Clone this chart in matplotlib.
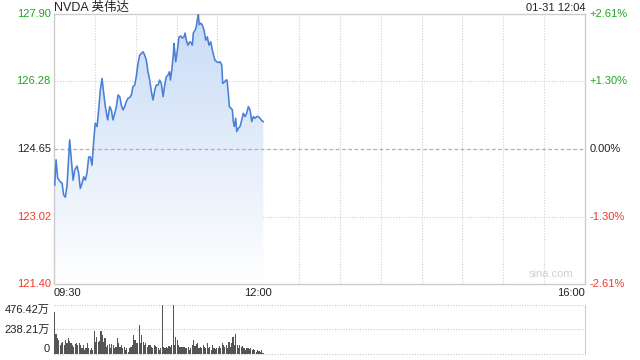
import matplotlib.pyplot as plt
import numpy as np
from matplotlib.colors import LinearSegmentedColormap

plt.rcParams['font.family'] = ['Liberation Sans', 'Noto Sans CJK SC']

# minutes after 09:30 and last price
minutes = [0.5, 1.5, 2.7, 4.6, 5.9, 7.1, 8.3, 9.5, 11.5, 12.7,
           14.0, 15.2, 16.9, 18.1, 19.3, 20.6, 21.8, 23.0, 24.2, 25.5,
           26.7, 27.9, 29.2, 30.3, 31.6, 32.8, 34.0, 35.3, 36.5, 37.7,
           39.4, 40.9, 42.1, 43.3, 44.6, 45.8, 47.0, 48.3, 49.4, 50.7,
           51.9, 53.1, 54.3, 55.6, 56.8, 58.0, 59.3, 60.4, 61.7, 62.9,
           64.1, 65.4, 66.6, 67.8, 69.0, 70.3, 71.5, 72.7, 74.0, 75.1,
           76.4, 77.6, 78.8, 80.1, 81.3, 82.5, 83.7, 84.8, 85.5, 86.5,
           87.7, 88.1, 89.4, 90.6, 91.8, 93.1, 94.2, 95.5, 96.2, 97.2,
           98.4, 99.7, 100.8, 101.6, 102.3, 103.6, 104.5, 105.2, 106.0, 106.7,
           107.7, 108.9, 110.2, 111.4, 112.6, 113.8, 115.1, 116.3, 117.5, 118.2,
           119.5, 120.7, 121.9, 123.2, 123.9, 125.1, 126.3, 127.1, 128.0, 128.8,
           130.0, 131.0, 131.7, 132.4, 133.5, 134.2, 135.4, 136.6, 137.9, 139.0,
           140.3, 141.5, 142.7, 144.0, 145.2, 146.4, 147.6, 148.9, 150.1, 151.3,
           152.6, 153.7]
prices = [123.78, 124.39, 123.95, 123.86, 123.83, 123.54, 123.49, 123.74, 124.87, 124.39,
          123.90, 124.14, 124.24, 124.07, 123.70, 123.82, 123.98, 123.90, 124.07, 124.46,
          124.46, 124.26, 124.87, 125.27, 125.19, 125.59, 126.07, 126.35, 125.99, 125.67,
          125.35, 125.67, 125.59, 125.35, 125.51, 125.67, 125.95, 125.91, 125.71, 125.59,
          125.67, 125.79, 125.87, 125.89, 125.95, 126.15, 126.19, 126.39, 126.71, 126.91,
          126.95, 126.99, 126.91, 126.79, 126.51, 126.31, 126.03, 125.83, 126.07, 126.19,
          126.19, 126.31, 126.23, 125.91, 126.19, 126.39, 126.43, 126.51, 126.31, 126.55,
          126.95, 127.19, 126.75, 127.03, 127.35, 127.37, 127.32, 127.35, 127.44, 127.27,
          127.15, 127.23, 127.21, 127.15, 127.44, 127.51, 127.59, 127.76, 127.88, 127.64,
          127.68, 127.64, 127.51, 127.27, 127.35, 127.15, 127.23, 127.03, 126.87, 126.79,
          126.75, 126.73, 126.75, 126.67, 126.23, 126.26, 126.31, 126.31, 125.99, 125.67,
          125.63, 125.59, 125.31, 125.19, 125.39, 125.07, 125.15, 125.19, 125.35, 125.51,
          125.43, 125.51, 125.67, 125.59, 125.31, 125.43, 125.39, 125.43, 125.43, 125.39,
          125.33, 125.31]

# volume per minute, in 万
volumes = [411, 191, 152, 140, 87, 104, 120, 87, 136, 104,
           159, 126, 110, 87, 71, 97, 110, 87, 104, 87,
           61, 87, 39, 55, 104, 55, 39, 55, 39, 223,
           120, 169, 120, 126, 226, 185, 120, 152, 71, 87,
           94, 55, 94, 87, 55, 71, 159, 104, 71, 87,
           55, 71, 39, 61, 23, 55, 71, 87, 185, 136,
           104, 110, 279, 104, 185, 120, 87, 104, 71, 87,
           87, 71, 55, 87, 77, 64, 55,
           39, 55, 476, 71, 61, 71, 55, 81, 71, 87,
           476, 87, 169, 136, 87, 71, 71, 64, 71, 55,
           61, 71, 39, 61, 87, 136, 77, 94, 104, 55,
           71, 55, 87, 71, 61, 104, 55, 71, 39, 87,
           61, 48, 55, 61, 81, 55, 104, 87, 71, 87,
           55, 120, 71, 104, 169, 87, 191, 87, 55, 87,
           71, 77, 55, 39, 55, 61, 48, 55, 39, 45,
           39, 23, 39, 29, 16, 39, 10, 3]

prev_close = 124.65
price_ticks = [121.40, 123.02, 124.65, 126.28, 127.90]
pct_labels = ['-2.61%', '-1.30%', '0.00%', '+1.30%', '+2.61%']
vol_ticks = [0, 238.21, 476.42]
vol_labels = ['0', '238.21万', '476.42万']
time_ticks = [0, 150, 390]
time_labels = ['09:30', '12:00', '16:00']

green = '#1fa51f'
red = '#f0392b'
dark = '#222222'
tick_colors = [red, red, dark, green, green]

fig = plt.figure(figsize=(6.4, 3.6), dpi=100)
ax = fig.add_axes([0.0844, 0.2111, 0.8297, 0.75])

ax.plot(minutes, prices, color='#4a7fd6', lw=1.15, zorder=4)
fill = ax.fill_between(minutes, prices, price_ticks[0], color='none', lw=0)
grad = np.linspace(1, 0, 256).reshape(-1, 1)
cmap = LinearSegmentedColormap.from_list('bluefade', ['#ffffff', '#c8dbf6'])
im = ax.imshow(grad, cmap=cmap, aspect='auto', origin='upper',
               extent=[0, 390, price_ticks[0], price_ticks[-1]], zorder=2)
im.set_clip_path(fill.get_paths()[0], ax.transData)

ax.set_xlim(0, 390)
ax.set_ylim(price_ticks[0], price_ticks[-1])

for t in range(30, 390, 30):
    ax.axvline(t, color='#cfcfcf', lw=0.8, ls=(0, (1, 1.5)), zorder=1)
for p in [price_ticks[1], price_ticks[3]]:
    ax.axhline(p, color='#cfcfcf', lw=0.8, ls=(0, (1, 1.5)), zorder=1)
ax.axhline(prev_close, color='#b0b0b0', lw=0.9, ls=(0, (3, 2)), zorder=3)

for s in ax.spines.values():
    s.set_color('#cccccc')
    s.set_linewidth(1)
ax.set_xticks([])
ax.set_yticks([])

ytr = ax.get_yaxis_transform()
for p, lab, c in zip(price_ticks, pct_labels, tick_colors):
    ax.text(-0.006, p, f'{p:.2f}', transform=ytr, ha='right', va='center',
            fontsize=8, color=c)
    ax.text(1.009, p, lab, transform=ytr, ha='left', va='center',
            fontsize=8, color=c)

xtr = ax.get_xaxis_transform()
for t, lab, ha in zip(time_ticks, time_labels, ['left', 'center', 'right']):
    ax.text(t, -0.032, lab, transform=xtr, ha=ha, va='center', fontsize=8, color=dark)

ax.text(0.0, 1.022, 'NVDA 英伟达', transform=ax.transAxes, ha='left', va='center',
        fontsize=9, color=dark)
ax.text(1.0, 1.022, '01-31 12:04', transform=ax.transAxes, ha='right', va='center',
        fontsize=8, color=dark)
ax.text(0.978, 0.018, 'sina.com', transform=ax.transAxes, ha='right', va='bottom',
        fontsize=8, color='#d0d0d0')

# volume panel
vax = fig.add_axes([0.0844, 0.0167, 0.8297, 0.1361])
vpos = np.arange(len(volumes)) + 0.5
vax.bar(vpos, volumes, width=0.85, color='#555555', lw=0)
vax.set_xlim(0, 390)
vax.set_ylim(0, vol_ticks[-1])
for v in vol_ticks:
    vax.axhline(v, color='#cfcfcf', lw=0.9, ls=(0, (1, 1.2)), clip_on=False, zorder=0)
for name, s in vax.spines.items():
    s.set_visible(name == 'right')
vax.spines['right'].set_color('#cccccc')
vax.set_xticks([])
vax.set_yticks([])
vytr = vax.get_yaxis_transform()
for v, lab, va in zip(vol_ticks, vol_labels, ['bottom', 'center', 'top']):
    vax.text(-0.008, v, lab, transform=vytr, ha='right', va=va, fontsize=8, color=dark)

fig.savefig('out.png', dpi=100)
